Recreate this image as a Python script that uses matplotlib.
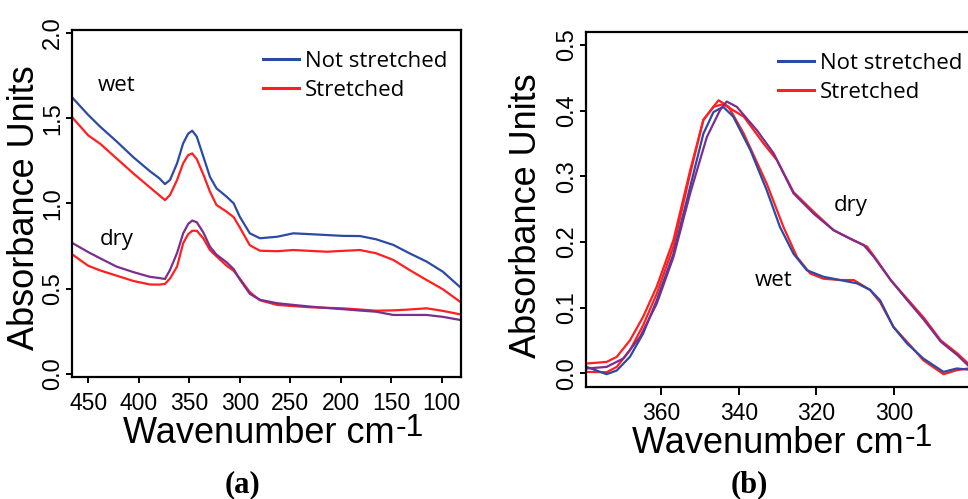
import matplotlib
matplotlib.use("Agg")
import matplotlib.pyplot as plt
from matplotlib.lines import Line2D

# colours of the spectra
BLUE = '#2b4aa8'
RED = '#ff1f1f'
PURPLE = '#7a2e8e'

# ---- panel (a): full range, wavenumber in cm-1 ----
wn_a = [465, 450, 438, 422, 405, 389, 380, 374, 369, 362, 356, 351, 347, 342.5, 336, 329.5, 323, 313,
        306, 300, 290, 280, 263, 247, 230, 214, 198, 181, 165, 148, 132, 115, 99, 82]
wet_not_a = [1.617, 1.52, 1.45, 1.365, 1.27, 1.19, 1.15, 1.114, 1.138, 1.236, 1.353, 1.41, 1.427, 1.392,
             1.275, 1.157, 1.089, 1.04, 1.001, 0.923, 0.825, 0.796, 0.805, 0.825, 0.82, 0.815, 0.81,
             0.809, 0.79, 0.757, 0.708, 0.659, 0.60, 0.51]
wet_str_a = [1.50, 1.40, 1.35, 1.265, 1.175, 1.095, 1.05, 1.02, 1.05, 1.138, 1.236, 1.284, 1.294, 1.26,
             1.17, 1.07, 0.991, 0.952, 0.92, 0.86, 0.755, 0.723, 0.72, 0.727, 0.722, 0.717, 0.722,
             0.727, 0.708, 0.669, 0.61, 0.551, 0.497, 0.424]
dry_not_a = [0.766, 0.715, 0.678, 0.63, 0.597, 0.57, 0.563, 0.557, 0.61, 0.71, 0.825, 0.88, 0.90, 0.89,
             0.83, 0.747, 0.70, 0.655, 0.615, 0.555, 0.47, 0.435, 0.415, 0.405, 0.395, 0.387, 0.38,
             0.372, 0.365, 0.346, 0.346, 0.346, 0.335, 0.317]
dry_str_a = [0.698, 0.635, 0.607, 0.577, 0.545, 0.525, 0.524, 0.528, 0.56, 0.63, 0.767, 0.82, 0.84, 0.84,
             0.795, 0.727, 0.69, 0.635, 0.605, 0.56, 0.48, 0.432, 0.405, 0.398, 0.391, 0.388, 0.385,
             0.378, 0.371, 0.373, 0.378, 0.385, 0.37, 0.35]

# ---- panel (b): zoom on the 340 cm-1 band ----
wn_wet_not_b = [379.1, 374, 371.4, 368, 364.6, 361.1, 356.8, 352.5, 349.1, 346.5, 344, 341.4, 337, 332.8,
                329.4, 325.9, 322.5, 318.2, 313.9, 309.6, 306.2, 303.6, 300.2, 296.7, 292.5, 287.3, 283.9, 281]
wet_not_b = [0.0096, -0.0015, 0.0041, 0.025, 0.0605, 0.111, 0.182, 0.284, 0.365, 0.398, 0.406, 0.391, 0.34, 0.279,
             0.223, 0.182, 0.157, 0.147, 0.142, 0.137, 0.127, 0.111, 0.0706, 0.0453, 0.0224, 0.002, 0.0072, 0.0056]
wn_wet_str_b = [379.1, 374, 371.4, 368, 364.6, 361.1, 356.8, 352.5, 349.1, 345.2, 342.6, 338.7, 332.8, 328.5,
                325, 321.6, 318.2, 313.9, 310.4, 306.2, 303.6, 300.2, 295.9, 292.5, 287.3, 283.9, 281]
wet_str_b = [0.002, 0.0015, 0.0096, 0.035, 0.073, 0.121, 0.193, 0.304, 0.386, 0.416, 0.406, 0.365, 0.289, 0.223,
             0.177, 0.152, 0.144, 0.142, 0.142, 0.127, 0.108, 0.0706, 0.0427, 0.0198, -0.0015, 0.0046, 0.0072]
wn_dry_not_b = [379.1, 374, 369.7, 365.4, 361.1, 356.8, 352.5, 348.2, 344.8, 343.1, 340.5, 335.3, 331,
                325.9, 320.7, 315.6, 311.3, 307.8, 305.2, 300.9, 296.6, 292.3, 288, 283.7, 281]
dry_not_b = [0.0072, 0.0096, 0.0224, 0.0553, 0.106, 0.177, 0.274, 0.36, 0.401, 0.414, 0.406, 0.37, 0.335,
             0.274, 0.243, 0.218, 0.205, 0.195, 0.177, 0.142, 0.111, 0.081, 0.048, 0.0274, 0.012]
wn_dry_str_b = [379.1, 374, 371.4, 368, 364.6, 361.1, 356.8, 352.5, 349.1, 346.5, 344, 338.7, 333.6, 330.2,
                325.9, 320.7, 315.6, 311.3, 307, 304.4, 300.9, 296.6, 292.3, 288, 283.7, 281]
dry_str_b = [0.0148, 0.0172, 0.0249, 0.05, 0.086, 0.132, 0.203, 0.309, 0.386, 0.406, 0.41, 0.391, 0.35, 0.325,
             0.276, 0.246, 0.218, 0.205, 0.193, 0.172, 0.142, 0.113, 0.084, 0.05, 0.03, 0.015]

ticks_a_x = [450, 400, 350, 300, 250, 200, 150, 100]
ticks_a_y = [0.0, 0.5, 1.0, 1.5, 2.0]
ticks_b_x = [360, 340, 320, 300]
ticks_b_y = [0.0, 0.1, 0.2, 0.3, 0.4, 0.5]

W, H = 968, 499
fig = plt.figure(figsize=(W / 100, H / 100), dpi=100)
renderer = fig.canvas.get_renderer()


def px_axes(left, top, right, bottom):
    return fig.add_axes([left / W, 1 - bottom / H, (right - left) / W, (bottom - top) / H])


def style_axes(ax, xt, yt, xtick_len, xpad):
    for s in ax.spines.values():
        s.set_linewidth(1.6)
    ax.set_xticks(xt)
    ax.set_xticklabels([str(t) for t in xt], fontsize=16.5, family='Liberation Sans')
    ax.set_yticks(yt)
    ax.set_yticklabels(['{:.1f}'.format(t) for t in yt], fontsize=17, rotation=90,
                       va='center', family=['Liberation Sans Narrow', 'Liberation Sans'])
    ax.tick_params(axis='x', length=xtick_len, width=1.4, pad=xpad)
    ax.tick_params(axis='y', length=4, width=1.4, pad=1.5)


lw = 1.6
leg_font = {'family': 'Open Sans', 'size': 16}

# panel (a)
ax1 = px_axes(72, 30, 461, 377)
ax1.plot(wn_a, wet_not_a, color=BLUE, lw=lw)
ax1.plot(wn_a, wet_str_a, color=RED, lw=lw)
ax1.plot(wn_a, dry_str_a, color=RED, lw=lw)
ax1.plot(wn_a, dry_not_a, color=PURPLE, lw=lw)
ax1.set_xlim(466, 81)
ax1.set_ylim(-0.018, 2.018)
style_axes(ax1, ticks_a_x, ticks_a_y, 4, 7)
ax1.text(422, 1.69, 'wet', fontdict=leg_font, ha='center', va='center')
ax1.text(422, 0.786, 'dry', fontdict=leg_font, ha='center', va='center')

# panel (b)
ax2 = px_axes(586, 32, 982, 387)
ax2.plot(wn_wet_str_b, wet_str_b, color=RED, lw=lw)
ax2.plot(wn_wet_not_b, wet_not_b, color=BLUE, lw=lw)
ax2.plot(wn_dry_str_b, dry_str_b, color=RED, lw=lw)
ax2.plot(wn_dry_not_b, dry_not_b, color=PURPLE, lw=lw)
ax2.set_xlim(379.3, 277.4)
ax2.set_ylim(-0.021, 0.52)
style_axes(ax2, ticks_b_x, ticks_b_y, 6, 4.5)

# legends
handles = [Line2D([], [], color=BLUE, lw=2.2), Line2D([], [], color=RED, lw=2.2)]
labels = ['Not stretched', 'Stretched']
for ax, (lx, ly) in [(ax1, (263, 51)), (ax2, (778, 53))]:
    ax.legend(handles, labels, loc='upper left', bbox_to_anchor=(lx / W, 1 - ly / H),
              bbox_transform=fig.transFigure, frameon=False, prop=leg_font,
              handlelength=1.6, handletextpad=0.3, labelspacing=0.34,
              borderpad=0, borderaxespad=0)

# panel (b) curve labels
fig.text(851 / W, 1 - 205 / H, 'dry', ha='center', va='center', fontdict=leg_font)
fig.text(774 / W, 1 - 280 / H, 'wet', ha='center', va='center', fontdict=leg_font)

# axis titles
lab_font = {'family': 'Liberation Sans', 'size': 26}
fig.text(25 / W, 1 - 208 / H, 'Absorbance Units', rotation=90, ha='center', va='center', fontdict=lab_font)
fig.text(527 / W, 1 - 216 / H, 'Absorbance Units', rotation=90, ha='center', va='center', fontdict=lab_font)
for x0, base in [(123, 443), (632, 453)]:
    t = fig.text(x0 / W, 1 - base / H, 'Wavenumber cm', ha='left', va='baseline', fontdict=lab_font)
    x_end = t.get_window_extent(renderer=renderer).x1
    fig.text((x_end + 1) / W, 1 - (base - 7) / H, '-1', ha='left', va='baseline',
             family='Liberation Sans', size=23)

# panel letters
pfont = {'family': 'Liberation Serif', 'size': 22, 'weight': 'bold'}
fig.text(242 / W, 1 - 485 / H, '(a)', ha='center', va='center', fontdict=pfont)
fig.text(749 / W, 1 - 485 / H, '(b)', ha='center', va='center', fontdict=pfont)

fig.savefig('out.png', dpi=100)
